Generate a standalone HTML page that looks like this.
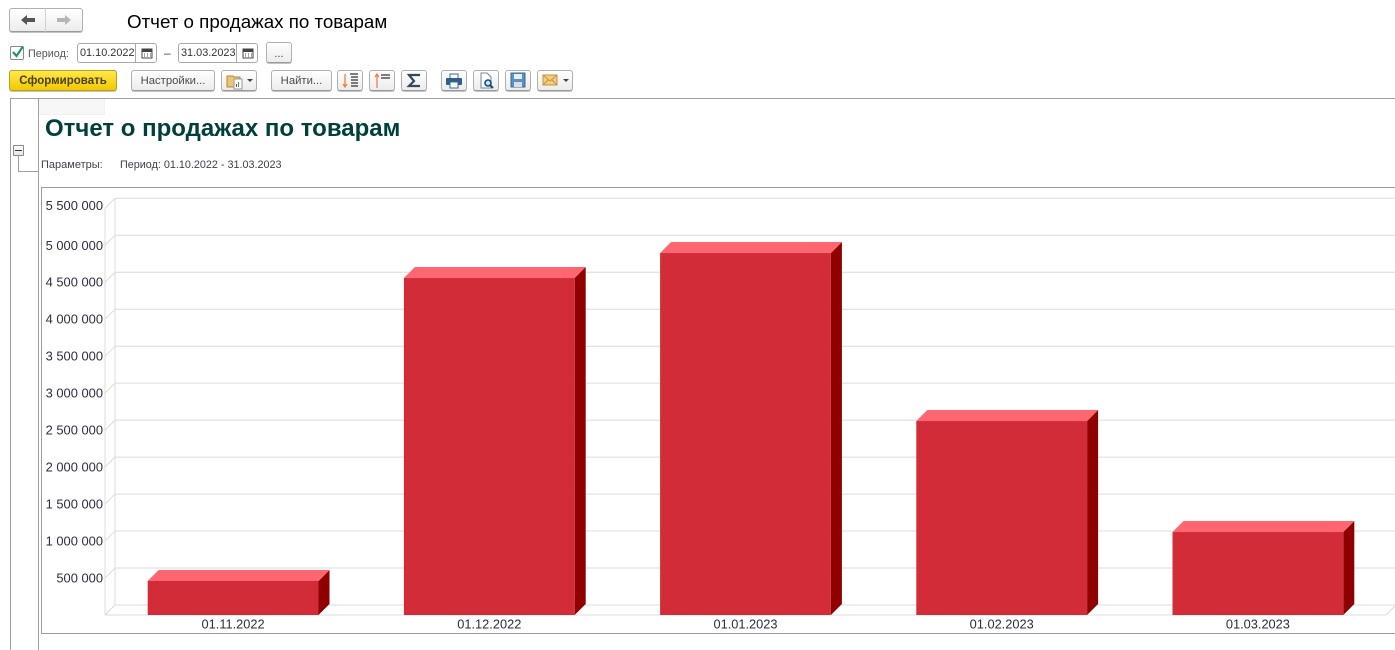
<!DOCTYPE html>
<html lang="ru">
<head>
<meta charset="utf-8">
<title>Отчет о продажах по товарам</title>
<style>
html,body{margin:0;padding:0;background:#fff;}
body{width:1395px;height:650px;overflow:hidden;position:relative;font-family:"Liberation Sans","Noto Sans CJK SC",sans-serif;color:#3d4050;}
.abs{position:absolute;}
.btn{position:absolute;box-sizing:border-box;height:22px;border:1px solid #b0b0b0;border-bottom:1px solid #9a9a9a;border-radius:3px;background:linear-gradient(#ffffff,#ececec);box-shadow:0 1px 0 #c4c4c4;font-size:11.3px;line-height:20px;text-align:center;color:#4a4a4a;}
.date{position:absolute;box-sizing:border-box;height:20px;top:43px;width:80px;border:1px solid #a9a9a9;border-radius:3px;background:#fff;font-size:10.9px;line-height:18px;padding-left:2px;color:#333;}
.date i{position:absolute;left:57px;top:0;height:18px;border-left:1px solid #a9a9a9;}
.date svg{position:absolute;left:63px;top:3px;}
svg text{font-family:"Liberation Sans","Noto Sans CJK SC",sans-serif;}
</style>
</head>
<body>

<div class="btn" style="left:9px;top:8px;width:37px;height:24px;border-radius:3px 0 0 3px;border-right:1px solid #d0d0d0;">
  <svg width="20" height="14" style="margin-top:4px"><path d="M3 7 L9 2 V5 H17 V9 H9 V12 Z" fill="#555"/></svg>
</div>
<div class="btn" style="left:46px;top:8px;width:37px;height:24px;border-radius:0 3px 3px 0;border-left:0;">
  <svg width="20" height="14" style="margin-top:4px"><path d="M17 7 L11 2 V5 H3 V9 H11 V12 Z" fill="#b5b5b5"/></svg>
</div>
<div class="abs" style="left:127px;top:12px;font-size:18.75px;line-height:20px;color:#000;white-space:nowrap;">Отчет о продажах по товарам</div>

<div class="abs" style="left:10px;top:46px;width:12px;height:12px;border:1px solid #8a8a8a;border-radius:2px;background:#fff;">
  <svg width="14" height="14" style="position:absolute;left:0;top:-2px"><path d="M2 7 L5.5 11 L12 1.5" fill="none" stroke="#1d9a5a" stroke-width="2.2"/></svg>
</div>
<div class="abs" style="left:28px;top:47px;font-size:10.8px;line-height:14px;color:#555;">Период:</div>

<div class="date" style="left:77px;">01.10.2022<i></i>
  <svg width="12" height="12"><rect x="1" y="2" width="10" height="9" fill="none" stroke="#444"/><rect x="1" y="2" width="10" height="3" fill="#444"/><path d="M3 7h1M6 7h1M9 7h1M3 9h1M6 9h1M9 9h1" stroke="#444"/></svg>
</div>
<div class="abs" style="left:164px;top:46px;font-size:12px;line-height:14px;color:#444;">–</div>
<div class="date" style="left:178px;">31.03.2023<i></i>
  <svg width="12" height="12"><rect x="1" y="2" width="10" height="9" fill="none" stroke="#444"/><rect x="1" y="2" width="10" height="3" fill="#444"/><path d="M3 7h1M6 7h1M9 7h1M3 9h1M6 9h1M9 9h1" stroke="#444"/></svg>
</div>
<div class="btn" style="left:266px;top:42px;width:26px;height:21px;line-height:22px;">...</div>

<div class="btn" style="left:9px;top:70px;width:108px;height:21px;border:1px solid #b8a020;background:linear-gradient(#ffe84a,#f2c800);font-weight:bold;font-size:11.5px;line-height:20px;color:#4a4020;">Сформировать</div>
<div class="btn" style="left:131px;top:70px;width:84px;height:21px;">Настройки...</div>
<div class="btn" style="left:221px;top:70px;width:36px;height:21px;">
  <svg width="34" height="19" style="position:absolute;left:0;top:0"><path d="M5 5h6l1 1h6v10H5z" fill="#eec673" stroke="#b08a3a"/><rect x="12" y="8" width="8" height="10" fill="#fff" stroke="#8a9aa8"/><rect x="14" y="13" width="1" height="3" fill="#d33"/><rect x="16" y="11" width="1" height="5" fill="#3a3"/><path d="M25 8h6l-3 3z" fill="#444"/></svg>
</div>
<div class="btn" style="left:271px;top:70px;width:61px;height:21px;">Найти...</div>

<div class="btn" style="left:337px;top:70px;width:26px;height:21px;">
  <svg width="24" height="19" style="position:absolute;left:0;top:0"><path d="M7 3V16M5 13l2 3 2-3" fill="none" stroke="#f08040" stroke-width="1.3"/><path d="M12 3h8M13 6h7M13 9h7M13 12h7M13 15h7" stroke="#333" stroke-width="1.2"/></svg>
</div>
<div class="btn" style="left:369px;top:70px;width:26px;height:21px;">
  <svg width="24" height="19" style="position:absolute;left:0;top:0"><path d="M7 17V3M5 6l2-3 2 3" fill="none" stroke="#f08040" stroke-width="1.3"/><path d="M11 4h9M11 7h9" stroke="#333" stroke-width="1.3"/></svg>
</div>
<div class="btn" style="left:401px;top:70px;width:26px;height:21px;">
  <svg width="24" height="19" style="position:absolute;left:0;top:0"><path d="M18 4H7l5 6-5 5h11" fill="none" stroke="#2f4a60" stroke-width="2.2"/></svg>
</div>
<div class="btn" style="left:441px;top:70px;width:26px;height:21px;">
  <svg width="24" height="19" style="position:absolute;left:0;top:0"><rect x="8" y="3" width="8" height="5" fill="#fff" stroke="#3a6a90"/><rect x="4" y="7" width="16" height="7" rx="1" fill="#2f5f88"/><rect x="8" y="11" width="8" height="6" fill="#fff" stroke="#3a6a90"/></svg>
</div>
<div class="btn" style="left:473px;top:70px;width:26px;height:21px;">
  <svg width="24" height="19" style="position:absolute;left:0;top:0"><path d="M7 2h6l4 4v11H7z" fill="#fff" stroke="#6a8aa5"/><circle cx="14" cy="12" r="3" fill="#cfe4f2" stroke="#0f4f7a" stroke-width="1.6"/><path d="M16 14l3 3" stroke="#0f4f7a" stroke-width="2"/></svg>
</div>
<div class="btn" style="left:505px;top:70px;width:26px;height:21px;">
  <svg width="24" height="19" style="position:absolute;left:0;top:0"><rect x="5" y="2" width="14" height="14" fill="#5f8fc0" stroke="#3a6a9a"/><rect x="8" y="3" width="8" height="5" fill="#e6eef6"/><rect x="8" y="11" width="8" height="5" fill="#d5dfe8"/></svg>
</div>
<div class="btn" style="left:537px;top:70px;width:36px;height:21px;">
  <svg width="34" height="19" style="position:absolute;left:0;top:0"><rect x="5" y="4" width="14" height="10" fill="#f2cd85" stroke="#c8923a"/><path d="M5 4l7 6 7-6M5 14l5-5M19 14l-5-5" fill="none" stroke="#c8923a"/><path d="M25 8h6l-3 3z" fill="#444"/></svg>
</div>

<div class="abs" style="left:10px;top:98px;width:1385px;height:1px;background:#a0a0a0;"></div>
<div class="abs" style="left:10px;top:98px;width:1px;height:552px;background:#a0a0a0;"></div>
<div class="abs" style="left:38px;top:98px;width:1px;height:552px;background:#a0a0a0;"></div>
<div class="abs" style="left:39px;top:99px;width:65px;height:15px;background:#f7f7f7;border-right:1px solid #f0f0f0;border-bottom:1px solid #f0f0f0;"></div>

<div class="abs" style="left:13px;top:145px;width:9px;height:9px;border:1px solid #8a8a8a;border-radius:1px;background:linear-gradient(#fff,#e4e4e4);">
  <div style="position:absolute;left:1px;top:4px;width:7px;height:1px;background:#333;"></div>
</div>
<div class="abs" style="left:18px;top:156px;width:1px;height:15px;background:#a0a0a0;"></div>
<div class="abs" style="left:18px;top:171px;width:20px;height:1px;background:#a0a0a0;"></div>

<div class="abs" style="left:45px;top:115px;font-size:24px;line-height:28px;font-weight:bold;color:#003f3c;white-space:nowrap;">Отчет о продажах по товарам</div>
<div class="abs" style="left:41px;top:159px;font-size:11px;line-height:13px;color:#3d4050;">Параметры:</div>
<div class="abs" style="left:120px;top:159px;font-size:10.8px;line-height:13px;color:#3d4050;white-space:nowrap;">Период: 01.10.2022 - 31.03.2023</div>

<svg id="chart" class="abs" width="1395" height="650" viewBox="0 0 1395 650" style="left:0;top:0;pointer-events:none;"></svg>

<script>
var categories = ["01.11.2022", "01.12.2022", "01.01.2023", "01.02.2023", "01.03.2023"];
var salesValues = [460000, 4557000, 4895000, 2623000, 1122000];
var tickValues = [500000, 1000000, 1500000, 2000000, 2500000, 3000000, 3500000, 4000000, 4500000, 5000000, 5500000];
var tickLabels = ["500 000", "1 000 000", "1 500 000", "2 000 000", "2 500 000", "3 000 000", "3 500 000", "4 000 000", "4 500 000", "5 000 000", "5 500 000"];

var NS = "http://www.w3.org/2000/svg";
var svg = document.getElementById("chart");
var plotLeft = 105, plotBase = 615, bandWidth = 256.2, depth = 10, yMax = 5500000, plotHeight = 406.7;
var gridColor = "#dcdcdc";
var topLabelShift = 3;

function yScale(v) { return plotBase - v / yMax * plotHeight; }
function xBand(i) { return plotLeft + i * bandWidth; }

function add(tag, attrs, parent) {
  var el = document.createElementNS(NS, tag);
  for (var k in attrs) el.setAttribute(k, attrs[k]);
  (parent || svg).appendChild(el);
  return el;
}
var plotRight = xBand(categories.length);

var frame = add("rect", {x: 41.5, y: 187.5, width: 1400, height: 446, fill: "#fff", stroke: "#9c9c9c"});



var wallLeft = add("path", {d: "M" + plotLeft + " " + yScale(yMax) + "V" + plotBase + "M" + (plotLeft + depth) + " " + (yScale(yMax) - depth) + "V" + (plotBase - depth), fill: "none", stroke: gridColor});



var floorEdge = add("path", {d: "M" + plotLeft + " " + plotBase + "H" + plotRight + "M" + (plotLeft + depth) + " " + (plotBase - depth) + "H" + (plotRight + depth) + "M" + plotLeft + " " + plotBase + "l" + depth + " " + (-depth) + "M" + plotRight + " " + plotBase + "l" + depth + " " + (-depth), fill: "none", stroke: gridColor, "shape-rendering": "crispEdges"});



tickValues.forEach(function (v, i) {
  var y = yScale(v);
  var g = add("path", {d: "M" + plotLeft + " " + y + "l" + depth + " " + (-depth) + "H" + (plotRight + depth), fill: "none", stroke: gridColor});
  
  
  var labelCenter = (i === tickValues.length - 1) ? y - topLabelShift : y;
  var t = add("text", {x: plotLeft - 2, y: labelCenter + 4.5, "text-anchor": "end", "font-size": 12.9, fill: "#2a2d45"});
  t.textContent = tickLabels[i];
  
  
});

categories.forEach(function (c, i) {
  var bw = bandWidth * 2 / 3;
  var x0 = xBand(i) + (bandWidth - bw) / 2;
  var x1 = x0 + bw;
  var yT = yScale(salesValues[i]);
  var d = 11;
  var side = add("polygon", {points: [x1, yT, x1 + d, yT - d, x1 + d, plotBase - d, x1, plotBase].join(" "), fill: "#8f0000"});
  
  
  var top = add("polygon", {points: [x0, yT, x0 + d, yT - d, x1 + d, yT - d, x1, yT].join(" "), fill: "#ff6670"});
  
  
  var front = add("rect", {x: x0, y: yT, width: bw, height: plotBase - yT, fill: "#d12c37"});
  
  
  var lab = add("text", {x: xBand(i) + bandWidth / 2, y: 628.5, "text-anchor": "middle", "font-size": 12.8, fill: "#2a2d45"});
  lab.textContent = c;
  
  
});
</script>
</body>
</html>
